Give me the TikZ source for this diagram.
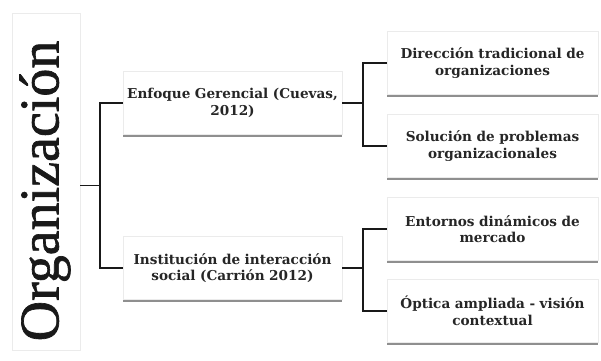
\documentclass[tikz,border=0pt]{standalone}
\usepackage{fontspec}
\setmainfont{DejaVu Serif}
\newfontfamily\rootfont[FakeBold=1.2]{Liberation Serif}
\usetikzlibrary{shadows}

\tikzset{
  box/.style={rectangle, fill=white, draw=black!8, line width=0.8pt,
    minimum height=63pt, align=center, inner sep=1.5pt,
    font=\fontsize{13.6}{16.5}\selectfont\bfseries, text=black!85,
    drop shadow={shadow xshift=0pt, shadow yshift=-2.5pt, fill=black!55, opacity=0.8}},
  midbox/.style={box, minimum width=219pt, text width=216pt},
  leafbox/.style={box, minimum width=211pt, text width=206pt},
  link/.style={draw=black!90, line width=1.3pt}
}

\begin{document}
\begin{tikzpicture}[x=1pt, y=-1pt]
        \useasboundingbox (0,0) rectangle (601,360);
        \node[rectangle, fill=white, draw=black!8, line width=0.8pt, minimum width=68pt, minimum height=337pt, inner sep=0pt] (org) at (46,181.5) {};
        \node[rotate=90, font=\rootfont\fontsize{56}{56}\selectfont, text=black!90] (orgtext) at (45,191) {Organización};
        \node[midbox] (mgr) at (232.5,103) {Enfoque Gerencial (Cuevas,\\2012)};
        \node[midbox] (soc) at (232.5,268) {Institución de interacción\\social (Carrión 2012)};
        \node[leafbox] (dir) at (492.5,63) {Dirección tradicional de\\organizaciones};
        \node[leafbox] (sol) at (492.5,146) {Solución de problemas\\organizacionales};
        \node[leafbox] (ent) at (492.5,229) {Entornos dinámicos de\\mercado};
        \node[leafbox] (opt) at (492.5,311) {Óptica ampliada - visión\\contextual};
        \coordinate (j0) at (100,185.5);
        \coordinate (j1) at (363,103);
        \coordinate (j2) at (363,268);
        \draw[link] (org.east |- j0) -- (j0);
        \draw[link] (j0) |- (mgr.west);
        \draw[link] (j0) |- (soc.west);
        \draw[link] (mgr.east) -- (j1);
        \draw[link] (j1) |- (dir.west);
        \draw[link] (j1) |- (sol.west);
        \draw[link] (soc.east) -- (j2);
        \draw[link] (j2) |- (ent.west);
        \draw[link] (j2) |- (opt.west);
    \end{tikzpicture}
\end{document}
